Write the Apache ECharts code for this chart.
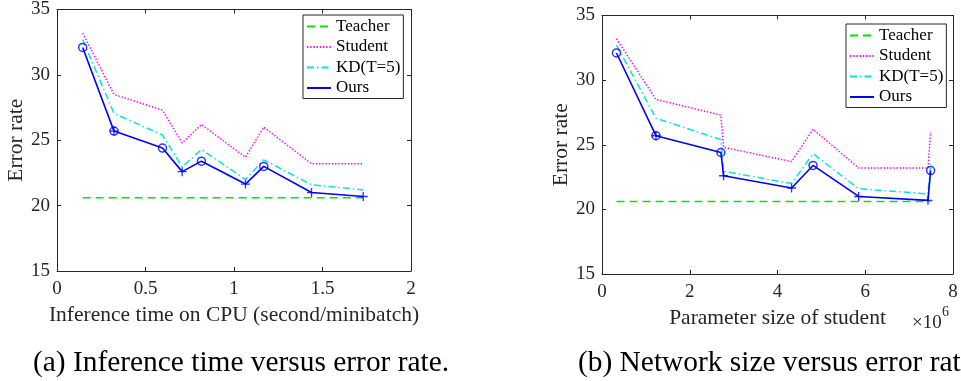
<!DOCTYPE html>
<html><head><meta charset="utf-8">
<script src="https://cdn.jsdelivr.net/npm/echarts@6/dist/echarts.min.js"></script>
<style>html,body{margin:0;padding:0;background:#fff;}#c{width:961px;height:381px;}</style>
</head><body><div id="c"></div>
<script>
// ---- data ----
const seriesNames = ['Teacher', 'Student', 'KD(T=5)', 'Ours'];
const inferenceTime = [0.145, 0.322, 0.596, 0.707, 0.816, 1.065, 1.168, 1.438, 1.73];
const paramSizeM = [0.33, 1.23, 2.71, 2.77, 4.81, 4.32, 7.49, 5.85, 7.43]; // x 10^6
const oursErr = [32.1, 25.7, 24.4, 22.6, 23.4, 21.65, 23.0, 21.0, 20.7];
const studentErr = [33.2, 28.5, 27.3, 24.8, 26.2, 23.7, 26.0, 23.2, 23.2];
const kdErr = [32.7, 27.05, 25.4, 22.95, 24.3, 22.0, 23.5, 21.6, 21.2];
const teacherErr = 20.6;
const oursMarkers = ['o', 'o+', 'o', '+', 'o', '+', 'o', '+', '+'];
const yTicks = [15, 20, 25, 30, 35];
const xTicksLeft = [0, 0.5, 1, 1.5, 2];
const xTicksRight = [0, 2, 4, 6, 8];
const xNameLeft = 'Inference time on CPU (second/minibatch)';
const xNameRight = 'Parameter size of student';
const yName = 'Error rate';
const captionA = '(a) Inference time versus error rate.';
const captionB = '(b) Network size versus error rate.';

// ---- chart ----
const FONT = "Liberation Serif";
const AX = '#262626';
const COL = { Teacher: '#00e600', Student: '#ff00ff', 'KD(T=5)': '#00e5e5', Ours: '#0000ff' };
const DASH = { Teacher: [8, 5], Student: [1.4, 1.8], 'KD(T=5)': [7, 3, 1.5, 3], Ours: 'solid' };
const PLUS = 'path://M4.25,0H5.75V4.25H10V5.75H5.75V10H4.25V5.75H0V4.25H4.25Z';

function order(xs) { return xs.map((_, i) => i).sort((a, b) => xs[a] - xs[b]); }
function pts(xs, ys, ord) { return ord.map(i => [xs[i], ys[i]]); }

function xAxes(gi, ticks, name, gap) {
  const mn = ticks[0], mx = ticks[ticks.length - 1], iv = ticks[1] - ticks[0];
  const base = {
    type: 'value', gridIndex: gi, min: mn, max: mx, interval: iv,
    axisLine: { show: true, onZero: false, lineStyle: { color: AX, width: 1 } },
    axisTick: { show: true, inside: true, length: 4, lineStyle: { color: AX } },
    splitLine: { show: false }
  };
  return [
    Object.assign({}, base, {
      position: 'bottom',
      axisLabel: { color: AX, fontFamily: FONT, fontSize: 19, margin: 9 },
      name: name, nameLocation: 'middle', nameGap: gap,
      nameTextStyle: { color: AX, fontFamily: FONT, fontSize: 21.5 }
    }),
    Object.assign({}, base, { position: 'top', axisLabel: { show: false } })
  ];
}
function yAxes(gi) {
  const base = {
    type: 'value', gridIndex: gi, min: yTicks[0], max: yTicks[yTicks.length - 1], interval: yTicks[1] - yTicks[0],
    axisLine: { show: true, onZero: false, lineStyle: { color: AX, width: 1 } },
    axisTick: { show: true, inside: true, length: 4, lineStyle: { color: AX } },
    splitLine: { show: false }
  };
  return [
    Object.assign({}, base, {
      position: 'left',
      axisLabel: { color: AX, fontFamily: FONT, fontSize: 19, margin: 7 },
      name: yName, nameLocation: 'middle', nameGap: 28, nameRotate: 90,
      nameTextStyle: { color: AX, fontFamily: FONT, fontSize: 21.5 }
    }),
    Object.assign({}, base, { position: 'right', axisLabel: { show: false } })
  ];
}

function plotSeries(xs, xi, yi) {
  const ord = order(xs);
  const lo = xs[ord[0]], hi = xs[ord[ord.length - 1]];
  const ys = { Teacher: null, Student: studentErr, 'KD(T=5)': kdErr, Ours: oursErr };
  const out = seriesNames.map(n => ({
    name: n, type: 'line', xAxisIndex: xi, yAxisIndex: yi, symbol: 'none',
    data: n === 'Teacher' ? [[lo, teacherErr], [hi, teacherErr]] : pts(xs, ys[n], ord),
    lineStyle: { color: COL[n], width: n === 'Ours' ? 1.6 : 1.5, type: DASH[n] },
    itemStyle: { color: COL[n] }, z: n === 'Ours' ? 5 : 3, silent: true
  }));
  const circ = ord.filter(i => oursMarkers[i].indexOf('o') >= 0).map(i => [xs[i], oursErr[i]]);
  const plus = ord.filter(i => oursMarkers[i].indexOf('+') >= 0).map(i => [xs[i], oursErr[i]]);
  out.push({
    name: 'ours-o', type: 'scatter', xAxisIndex: xi, yAxisIndex: yi, data: circ,
    symbol: 'circle', symbolSize: 8, z: 6, silent: true,
    itemStyle: { color: 'rgba(0,0,0,0)', borderColor: COL.Ours, borderWidth: 1.5 }
  });
  out.push({
    name: 'ours-+', type: 'scatter', xAxisIndex: xi, yAxisIndex: yi, data: plus,
    symbol: PLUS, symbolSize: 9, z: 6, silent: true,
    itemStyle: { color: COL.Ours }
  });
  return out;
}

function legend(left, top) {
  return {
    orient: 'vertical', left: left, top: top, padding: [3, 3, 2, 3],
    itemWidth: 24, itemHeight: 14, itemGap: 3.5, selectedMode: false,
    borderColor: AX, borderWidth: 1, backgroundColor: '#fff',
    itemStyle: { opacity: 0 },
    textStyle: { fontFamily: FONT, fontSize: 17, color: '#000' },
    data: seriesNames
  };
}

const xl = xAxes(0, xTicksLeft, xNameLeft, 30);
const xr = xAxes(1, xTicksRight, xNameRight, 30);
const yl = yAxes(0), yr = yAxes(1);
const capStyle = { fontFamily: FONT, fontSize: 29.4, fontWeight: 'normal', color: '#000' };

const chart = echarts.init(document.getElementById('c'));
chart.setOption({
  animation: false,
  backgroundColor: '#fff',
  grid: [
    { left: 57, right: 550, top: 8, bottom: 110, containLabel: false },
    { left: 602, right: 8, top: 15.5, bottom: 107, containLabel: false }
  ],
  xAxis: [xl[0], xl[1], xr[0], xr[1]],
  yAxis: [yl[0], yl[1], yr[0], yr[1]],
  legend: [legend(303, 15), legend(846, 24)],
  title: [
    { text: captionA, left: 33, top: 349, padding: 0, textStyle: capStyle },
    { text: captionB, left: 578, top: 349, padding: 0, textStyle: capStyle },
    { text: '×10', left: 912, top: 314, padding: 0, textStyle: { fontFamily: FONT, fontSize: 19, fontWeight: 'normal', color: AX } },
    { text: '6', left: 942, top: 305, padding: 0, textStyle: { fontFamily: FONT, fontSize: 14, fontWeight: 'normal', color: AX } }
  ],
  series: plotSeries(inferenceTime, 0, 0).concat(plotSeries(paramSizeM, 2, 2))
});
</script></body></html>
